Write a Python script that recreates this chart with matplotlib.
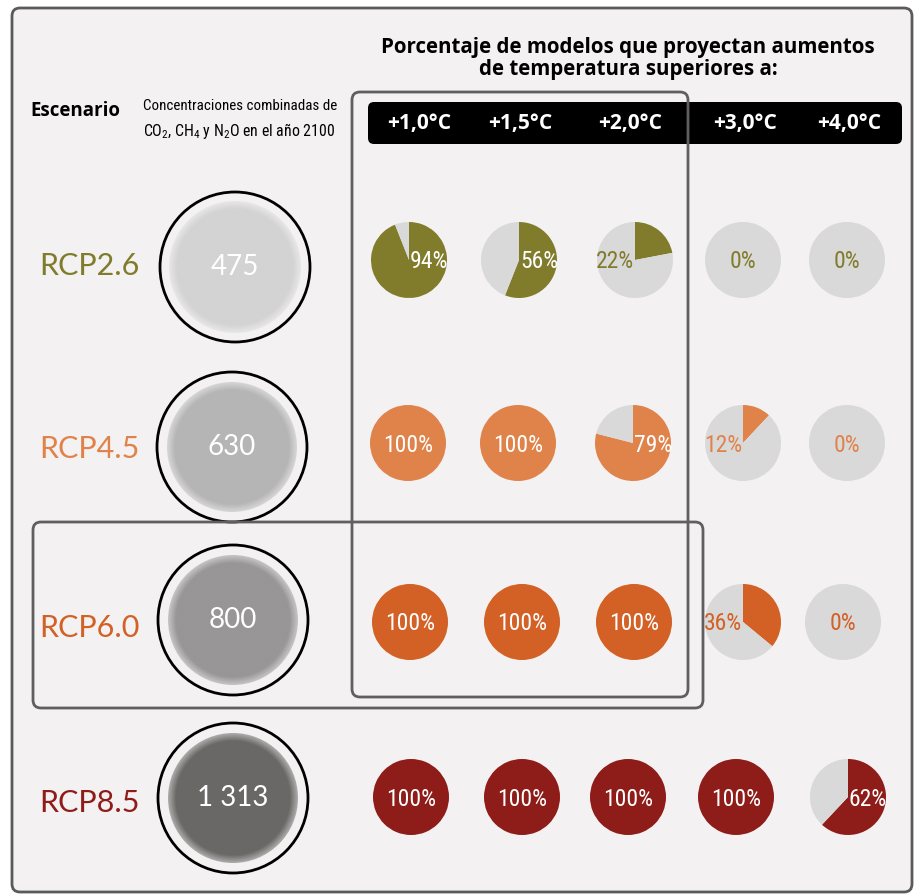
import numpy as np
import matplotlib.pyplot as plt
import matplotlib.patches as patches
from matplotlib import font_manager, colors as mcolors

# data
scenarios = ["RCP2.6", "RCP4.5", "RCP6.0", "RCP8.5"]
concentrations = ["475", "630", "800", "1 313"]
thresholds = ["+1,0°C", "+1,5°C", "+2,0°C", "+3,0°C", "+4,0°C"]
pct = [
    [94, 56, 22, 0, 0],
    [100, 100, 79, 12, 0],
    [100, 100, 100, 36, 0],
    [100, 100, 100, 100, 62],
]
scen_colors = ["#807c2c", "#e0834a", "#d36025", "#8e1c19"]
conc_colors = ["#d3d3d3", "#b6b5b5", "#989696", "#6a6866"]

BG = "#f3f1f2"
GRAY = "#d9d9d9"
W, H = 918, 894

available = {f.name for f in font_manager.fontManager.ttflist}


def pick(names):
    for n in names:
        if n in available:
            return n
    return "DejaVu Sans"


NARROW = pick(["Liberation Sans Narrow", "DejaVu Sans Condensed", "Roboto Condensed", "Open Sans Condensed"])
LIGHT = pick(["Lato", "Open Sans", "Roboto"])
BOLD = pick(["Open Sans", "Lato", "Roboto"])

plt.rcParams["mathtext.fontset"] = "custom"
plt.rcParams["mathtext.rm"] = NARROW
plt.rcParams["mathtext.it"] = NARROW

fig = plt.figure(figsize=(W / 100, H / 100), dpi=100, facecolor="white")
ax = fig.add_axes([0, 0, 1, 1])
ax.set_facecolor("white")


def Y(y):
    return H - y


# outer frame
frame = patches.FancyBboxPatch((12, Y(892)), 900, 884, boxstyle="round,pad=0,rounding_size=8",
                               facecolor=BG, edgecolor="#5a5a5a", linewidth=2, zorder=0)
ax.add_patch(frame)

# title
ax.text(628, Y(47), "Porcentaje de modelos que proyectan aumentos", ha="center", va="center",
        fontsize=14.8, fontweight="bold", family=BOLD, color="black")
ax.text(628, Y(70), "de temperatura superiores a:", ha="center", va="center",
        fontsize=14.8, fontweight="bold", family=BOLD, color="black")

ax.text(30, Y(111), "Escenario", ha="left", va="center", fontsize=13.5, fontweight="bold",
        family=BOLD, color="black")
ax.text(143, Y(106), "Concentraciones combinadas de", ha="left", va="center", fontsize=10.8,
        family=NARROW, color="black")
ax.text(143, Y(131), r"CO$_\mathregular{2}$, CH$_\mathregular{4}$ y N$_\mathregular{2}$O en el año 2100",
        ha="left", va="center", fontsize=11.4, family=NARROW, color="black")

# header bar
bar = patches.FancyBboxPatch((368, Y(144)), 534, 42, boxstyle="round,pad=0,rounding_size=6",
                             facecolor="black", edgecolor="none", zorder=2)
ax.add_patch(bar)
col_x = [419, 520, 630, 745, 849]
for x, t in zip(col_x, thresholds):
    ax.text(x, Y(124), t, ha="center", va="center", fontsize=15, fontweight="bold",
            family=BOLD, color="white", zorder=3)

# highlight boxes
box1 = patches.FancyBboxPatch((352, Y(697)), 336, 605, boxstyle="round,pad=0,rounding_size=8",
                              facecolor="none", edgecolor="#5f5f5f", linewidth=2, zorder=5)
box2 = patches.FancyBboxPatch((33, Y(708)), 670, 186, boxstyle="round,pad=0,rounding_size=8",
                              facecolor="none", edgecolor="#5f5f5f", linewidth=2, zorder=5)
ax.add_patch(box1)
ax.add_patch(box2)

row_y = [260, 443, 622, 797]
pie_x = [
    [409, 519, 635, 743, 847],
    [408, 518, 633, 743, 847],
    [410, 522, 634, 743, 843],
    [411, 522, 628, 736, 848],
]
conc_xy = [(235, 267), (232, 447), (233, 620), (233, 798)]
conc_r = [66, 65, 65, 65]

for i, (name, conc, color, ccol) in enumerate(zip(scenarios, concentrations, scen_colors, conc_colors)):
    y = row_y[i]
    ax.text(39, Y(y + 6), name, ha="left", va="center", fontsize=22, family=LIGHT,
            fontweight="normal", color=color)

    # concentration circle with soft edge
    cx, cy = conc_xy[i]
    R = conc_r[i]
    ring = patches.Circle((cx, Y(cy)), 75, facecolor=BG, edgecolor="black", linewidth=2, zorder=2)
    ax.add_patch(ring)
    n = 300
    gx, gy = np.meshgrid(np.linspace(-1, 1, n), np.linspace(-1, 1, n))
    rr = np.sqrt(gx ** 2 + gy ** 2)
    t = np.clip((rr - 0.88) / 0.12, 0, 1)[..., None]
    base = np.array(mcolors.to_rgb(ccol))
    light = base + (1 - base) * 0.45
    img = base * (1 - t) + light * t
    im = ax.imshow(img, extent=(cx - R, cx + R, Y(cy) - R, Y(cy) + R), zorder=3,
                   interpolation="bilinear")
    clip = patches.Circle((cx, Y(cy)), R, transform=ax.transData)
    im.set_clip_path(clip)
    ax.text(cx, Y(cy), conc, ha="center", va="center", fontsize=20, family=LIGHT,
            fontweight="normal", color="white", zorder=4)

    for j, v in enumerate(pct[i]):
        px = pie_x[i][j]
        ax.pie([v, 100 - v], colors=[color, GRAY], startangle=90, counterclock=False,
               center=(px, Y(y)), radius=38, frame=True,
               wedgeprops=dict(linewidth=0))
        label = f"{v}%"
        if v == 100:
            ha, dx, tc = "center", 0, "white"
        elif v == 0:
            ha, dx, tc = "center", 0, color
        elif v >= 50:
            ha, dx, tc = "left", 1, "white"
        else:
            ha, dx, tc = "right", -1, color
        ax.text(px + dx, Y(y + 2), label, ha=ha, va="center", fontsize=17, family=NARROW,
                color=tc, zorder=6)

ax.set_xlim(0, W)
ax.set_ylim(0, H)
ax.set_aspect("auto")
ax.axis("off")

fig.savefig("out.png", dpi=100, facecolor="white")
